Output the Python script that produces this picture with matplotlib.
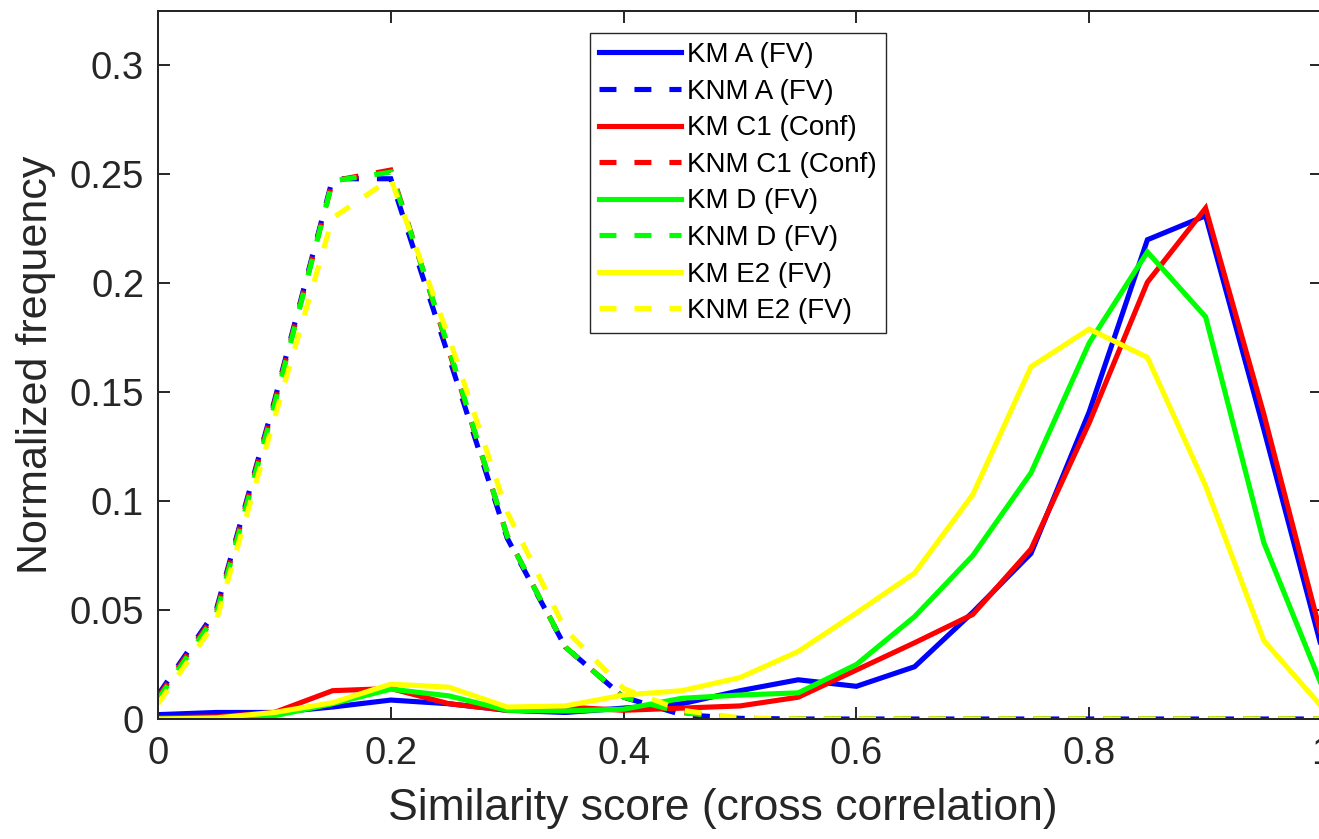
import matplotlib
matplotlib.use("Agg")
import matplotlib.pyplot as plt
import numpy as np

# Similarity score bins (cross correlation)
scores = np.round(np.arange(0, 1.0001, 0.05), 2)

# Known-match (KM) and known-non-match (KNM) normalized frequencies
km_a = [0.002, 0.003, 0.003, 0.0055, 0.0087, 0.007, 0.004, 0.003, 0.005, 0.007, 0.013,
        0.018, 0.015, 0.024, 0.049, 0.076, 0.141, 0.220, 0.231, 0.133, 0.032]
knm_a = [0.011, 0.050, 0.146, 0.248, 0.248, 0.166, 0.083, 0.033, 0.010, 0.002, 0.0003,
         0, 0, 0, 0, 0, 0, 0, 0, 0, 0]
km_c1 = [0.0005, 0.001, 0.003, 0.013, 0.014, 0.007, 0.004, 0.0055, 0.004, 0.005, 0.006,
         0.010, 0.0225, 0.035, 0.048, 0.078, 0.136, 0.2005, 0.2345, 0.140, 0.037]
knm_c1 = [0.010, 0.049, 0.145, 0.247, 0.252, 0.169, 0.084, 0.033, 0.010, 0.003, 0.0003,
          0, 0, 0, 0, 0, 0, 0, 0, 0, 0]
km_d = [0.0, 0.0, 0.0015, 0.007, 0.0137, 0.0106, 0.004, 0.0037, 0.0045, 0.0095, 0.011,
        0.012, 0.025, 0.047, 0.075, 0.113, 0.1726, 0.2144, 0.1846, 0.081, 0.015]
knm_d = [0.009, 0.048, 0.144, 0.247, 0.251, 0.170, 0.084, 0.033, 0.010, 0.003, 0.0003,
         0, 0, 0, 0, 0, 0, 0, 0, 0, 0]
km_e2 = [0.0, 0.0005, 0.003, 0.0075, 0.016, 0.0146, 0.0055, 0.006, 0.011, 0.013, 0.019,
         0.031, 0.0487, 0.067, 0.103, 0.1617, 0.179, 0.166, 0.107, 0.036, 0.0055]
knm_e2 = [0.007, 0.045, 0.138, 0.230, 0.248, 0.175, 0.095, 0.041, 0.014, 0.004, 0.0005,
          0, 0, 0, 0, 0, 0, 0, 0, 0, 0]

labels = ["KM A (FV)", "KNM A (FV)", "KM C1 (Conf)", "KNM C1 (Conf)",
          "KM D (FV)", "KNM D (FV)", "KM E2 (FV)", "KNM E2 (FV)"]
series = [km_a, knm_a, km_c1, knm_c1, km_d, knm_d, km_e2, knm_e2]
colors = ["#0000ff", "#0000ff", "#ff0000", "#ff0000",
          "#00ff00", "#00ff00", "#ffff00", "#ffff00"]
dashed = [False, True, False, True, False, True, False, True]

plt.rcParams["font.family"] = ["Liberation Sans", "DejaVu Sans"]
axis_color = "#262626"

W, H = 1319, 839
fig = plt.figure(figsize=(W / 100, H / 100), dpi=100)
ax = fig.add_axes([158 / W, 1 - 719 / H, (1322 - 158) / W, (719 - 11) / H])

for vals, lab, col, dsh in zip(series, labels, colors, dashed):
    ls = (0, (3.3, 3.5)) if dsh else "-"
    ax.plot(scores, vals, color=col, lw=3.7, linestyle=ls, label=lab,
            solid_joinstyle="miter", dash_joinstyle="miter")

ax.set_xlim(0, 1)
ax.set_ylim(0, 0.325)
ax.set_xticks([0, 0.2, 0.4, 0.6, 0.8, 1.0])
ax.set_xticklabels(["0", "0.2", "0.4", "0.6", "0.8", "1"])
ax.set_yticks([0, 0.05, 0.1, 0.15, 0.2, 0.25, 0.3])
ax.set_yticklabels(["0", "0.05", "0.1", "0.15", "0.2", "0.25", "0.3"])

ax.tick_params(direction="in", length=8.6, width=1.4, colors=axis_color,
               labelsize=27.5, top=True, right=True)
ax.tick_params(axis="x", pad=12)
ax.tick_params(axis="y", pad=10)
for sp in ax.spines.values():
    sp.set_color(axis_color)
    sp.set_linewidth(1.45)

ax.set_xlabel("Similarity score (cross correlation)", fontsize=32, color=axis_color,
              labelpad=12)
ax.xaxis.set_label_coords((723 - 158) / (1322 - 158), -0.097)
ax.set_ylabel("Normalized frequency", fontsize=31, color=axis_color, labelpad=10)

leg = ax.legend(loc="upper left", bbox_to_anchor=(590 / W, 1 - 33 / H),
                bbox_transform=fig.transFigure, borderaxespad=0,
                fontsize=20, frameon=True, fancybox=False, framealpha=1,
                handlelength=2.95, handletextpad=0.22, labelspacing=0.38,
                borderpad=0.33)
leg.get_frame().set_edgecolor(axis_color)
leg.get_frame().set_linewidth(1.0)

fig.savefig("out.png", dpi=100)
